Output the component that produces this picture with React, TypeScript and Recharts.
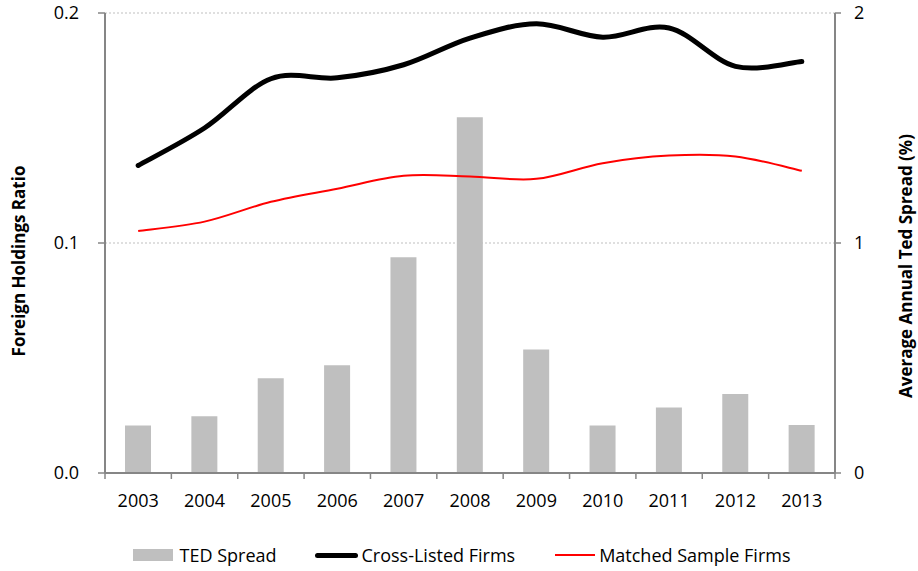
import React from "react";
import {
  ComposedChart, Bar, Line, XAxis, YAxis, CartesianGrid, Legend,
} from "recharts";

const years = ["2003", "2004", "2005", "2006", "2007", "2008", "2009", "2010", "2011", "2012", "2013"];
const tedSpread = [0.206, 0.247, 0.412, 0.469, 0.938, 1.547, 0.537, 0.206, 0.285, 0.343, 0.209];
const crossListed = [0.1337, 0.150, 0.1714, 0.1718, 0.1775, 0.1891, 0.1953, 0.1895, 0.1935, 0.1768, 0.1789];
const matchedSample = [0.1052, 0.1093, 0.1179, 0.1236, 0.1292, 0.1289, 0.1279, 0.1347, 0.1380, 0.1376, 0.1314];
const leftTicks = [0, 0.1, 0.2];
const rightTicks = [0, 1, 2];

const FONT = "'Open Sans', 'Liberation Sans', sans-serif";
const AXIS = "#868686";

const data = years.map((y, i) => ({
  year: y,
  ted: tedSpread[i],
  cross: crossListed[i],
  matched: matchedSample[i],
}));

// Excel-like smoothed line (Catmull-Rom through the points)
const excelSmooth = (context: any) => {
  let pts: number[][] = [];
  return {
    areaStart() {},
    areaEnd() {},
    lineStart() {
      pts = [];
    },
    point(x: number, y: number) {
      pts.push([+x, +y]);
    },
    lineEnd() {
      if (!pts.length) return;
      context.moveTo(pts[0][0], pts[0][1]);
      for (let i = 0; i < pts.length - 1; i++) {
        const p0 = pts[i - 1] || pts[i];
        const p1 = pts[i];
        const p2 = pts[i + 1];
        const p3 = pts[i + 2] || p2;
        context.bezierCurveTo(
          p1[0] + (p2[0] - p0[0]) / 6, p1[1] + (p2[1] - p0[1]) / 6,
          p2[0] - (p3[0] - p1[0]) / 6, p2[1] - (p3[1] - p1[1]) / 6,
          p2[0], p2[1],
        );
      }
    },
  };
};

// tick marks between categories, labels centred
const YearTick = (props: any) => {
  const { x, y, payload, index } = props;
  const half = payload.offset ?? 0;
  return (
    <g>
      <line x1={x - half} x2={x - half} y1={y} y2={y + 6} stroke={AXIS} strokeWidth={1.5} />
      {index === years.length - 1 && (
        <line x1={x + half} x2={x + half} y1={y} y2={y + 6} stroke={AXIS} strokeWidth={1.5} />
      )}
      <text x={x} y={y + 34} textAnchor="middle" fontFamily={FONT} fontSize={18} fill="#000">
        {payload.value}
      </text>
    </g>
  );
};

const AxisTitle = ({ x, y, text }: { x: number; y: number; text: string }) => (
  <text
    x={x}
    y={y}
    transform={`rotate(-90, ${x}, ${y})`}
    textAnchor="middle"
    dominantBaseline="central"
    fontFamily={FONT}
    fontWeight="bold"
    fontSize={17}
    fill="#000"
  >
    {text}
  </text>
);

const LegendContent = () => (
  <div
    style={{
      display: "flex",
      justifyContent: "center",
      alignItems: "center",
      fontFamily: FONT,
      fontSize: 18,
      color: "#000",
      paddingLeft: 6,
    }}
  >
    <span style={{ display: "inline-block", width: 40, height: 12, background: "#BFBFBF", marginRight: 6 }} />
    <span>TED Spread</span>
    <span style={{ display: "inline-block", width: 43, height: 5, background: "#000", borderRadius: 3, marginLeft: 38, marginRight: 4 }} />
    <span>Cross-Listed Firms</span>
    <span style={{ display: "inline-block", width: 40, height: 2, background: "#FF0000", marginLeft: 40, marginRight: 4 }} />
    <span>Matched Sample Firms</span>
  </div>
);

export default function App() {
  return (
    <div style={{ position: "absolute", left: 0, top: 0, background: "#fff" }}>
      <ComposedChart
        width={918}
        height={571}
        data={data}
        margin={{ top: 13, right: 0, bottom: 58, left: 0 }}
        barSize={26}
      >
        <CartesianGrid vertical={false} yAxisId="left" stroke="#BFBFBF" strokeDasharray="2 2" />
        <XAxis
          dataKey="year"
          height={40}
          axisLine={{ stroke: AXIS, strokeWidth: 2 }}
          tickLine={false}
          tickSize={0}
          tickMargin={0}
          tick={<YearTick />}
          interval={0}
        />
        <YAxis
          yAxisId="left"
          width={105}
          domain={[0, 0.2]}
          ticks={leftTicks}
          tickFormatter={(v: number) => v.toFixed(1)}
          axisLine={{ stroke: AXIS, strokeWidth: 2 }}
          tickLine={{ stroke: AXIS, strokeWidth: 1.5 }}
          tickSize={7}
          tickMargin={19}
          tick={{ fontFamily: FONT, fontSize: 18, fill: "#000" }}
          label={{ content: () => <AxisTitle x={18} y={261} text="Foreign Holdings Ratio" /> }}
        />
        <YAxis
          yAxisId="right"
          orientation="right"
          width={83}
          domain={[0, 2]}
          ticks={rightTicks}
          axisLine={{ stroke: AXIS, strokeWidth: 2 }}
          tickLine={{ stroke: AXIS, strokeWidth: 1.5 }}
          tickSize={6}
          tickMargin={13}
          tick={{ fontFamily: FONT, fontSize: 18, fill: "#000" }}
          label={{ content: () => <AxisTitle x={905} y={266} text="Average Annual Ted Spread (%)" /> }}
        />
        <Legend
          verticalAlign="middle"
          layout="horizontal"
          content={<LegendContent />}
          wrapperStyle={{ position: "absolute", left: 0, top: 543, width: 918 }}
        />
        <Bar yAxisId="right" dataKey="ted" name="TED Spread" fill="#BFBFBF" isAnimationActive={false} />
        <Line
          yAxisId="left"
          type={excelSmooth as any}
          dataKey="cross"
          name="Cross-Listed Firms"
          stroke="#000"
          strokeWidth={5}
          strokeLinecap="round"
          dot={false}
          isAnimationActive={false}
        />
        <Line
          yAxisId="left"
          type={excelSmooth as any}
          dataKey="matched"
          name="Matched Sample Firms"
          stroke="#FF0000"
          strokeWidth={2}
          dot={false}
          isAnimationActive={false}
        />
      </ComposedChart>
    </div>
  );
}
